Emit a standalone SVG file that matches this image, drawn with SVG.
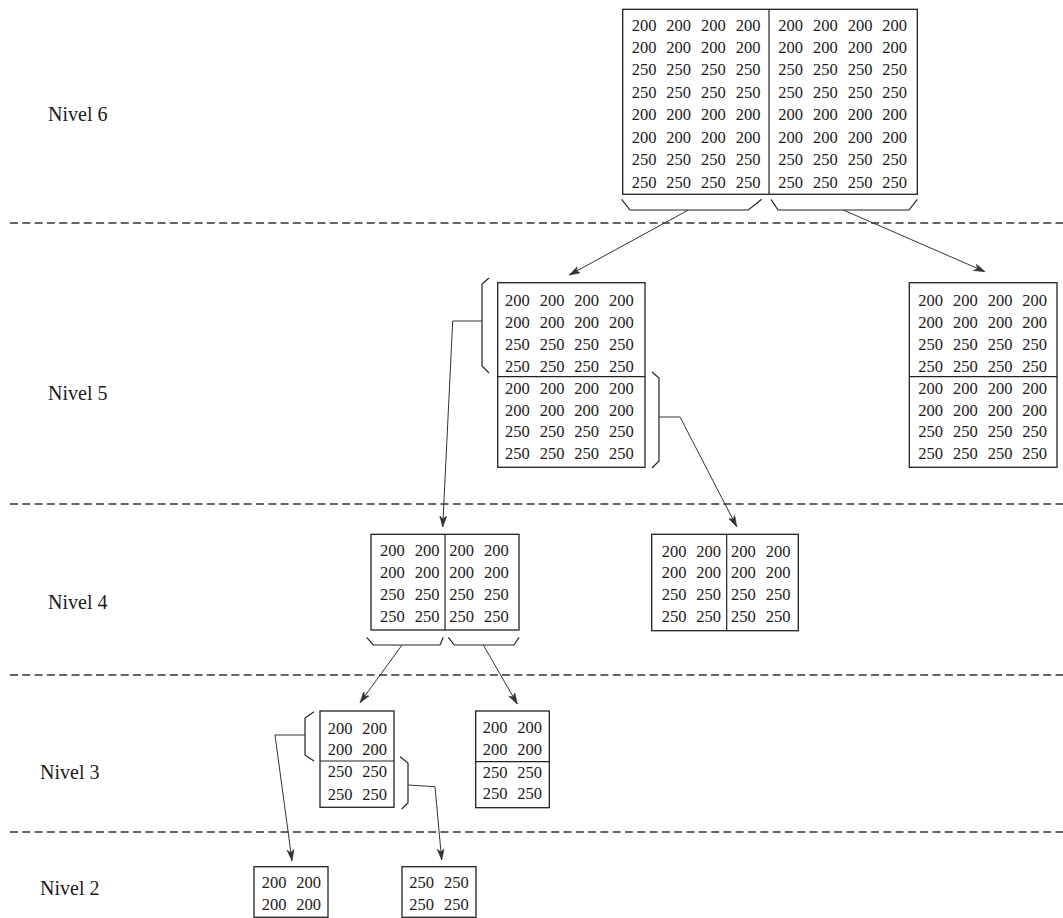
<svg xmlns="http://www.w3.org/2000/svg" width="1063" height="918" viewBox="0 0 1063 918">
<style>
.n{font-family:"Liberation Serif","Times New Roman",serif;font-size:16.5px;fill:#1a1a1a;word-spacing:5.8px}
.lbl{font-family:"Liberation Serif","Times New Roman",serif;font-size:20px;fill:#1a1a1a}
.box{fill:none;stroke:#222;stroke-width:1.3}
.div{stroke:#222;stroke-width:1.2;fill:none}
.br{fill:none;stroke:#222;stroke-width:1.2}
.dash{stroke:#333;stroke-width:1.3;stroke-dasharray:8 4.3;fill:none}
.con{fill:none;stroke:#333;stroke-width:1}
.arr{fill:none;stroke:#333;stroke-width:1;marker-end:url(#ah)}
</style>
<defs>
<marker id="ah" markerWidth="12" markerHeight="8" refX="11" refY="3.5" orient="auto" markerUnits="userSpaceOnUse">
<path d="M0,0 L11,3.5 L0,7 L3,3.5 z" fill="#333" stroke="#333" stroke-width="0.6"/>
</marker>
</defs>
<rect width="1063" height="918" fill="#fff"/>
<g id="separators">
<line class="dash" x1="10" y1="223" x2="1063" y2="223"/>
<line class="dash" x1="10" y1="504" x2="1063" y2="504"/>
<line class="dash" x1="10" y1="675" x2="1063" y2="675"/>
<line class="dash" x1="10" y1="832" x2="1063" y2="832"/>
</g>
<g id="labels">
<text class="lbl" x="48" y="121">Nivel 6</text>
<text class="lbl" x="48" y="400">Nivel 5</text>
<text class="lbl" x="48" y="609">Nivel 4</text>
<text class="lbl" x="40" y="779">Nivel 3</text>
<text class="lbl" x="40" y="895">Nivel 2</text>
</g>
<g id="node-n6">
<rect class="box" x="622.7" y="9.3" width="294.6" height="185"/>
<line class="div" x1="769" y1="9.3" x2="769" y2="194.3"/>
<text class="n" x="631.7" y="30.5">200 200 200 200</text>
<text class="n" x="631.7" y="53">200 200 200 200</text>
<text class="n" x="631.7" y="75.4">250 250 250 250</text>
<text class="n" x="631.7" y="97.8">250 250 250 250</text>
<text class="n" x="631.7" y="120.3">200 200 200 200</text>
<text class="n" x="631.7" y="142.7">200 200 200 200</text>
<text class="n" x="631.7" y="165.2">250 250 250 250</text>
<text class="n" x="631.7" y="187.6">250 250 250 250</text>
<text class="n" x="778.3" y="30.5">200 200 200 200</text>
<text class="n" x="778.3" y="53">200 200 200 200</text>
<text class="n" x="778.3" y="75.4">250 250 250 250</text>
<text class="n" x="778.3" y="97.8">250 250 250 250</text>
<text class="n" x="778.3" y="120.3">200 200 200 200</text>
<text class="n" x="778.3" y="142.7">200 200 200 200</text>
<text class="n" x="778.3" y="165.2">250 250 250 250</text>
<text class="n" x="778.3" y="187.6">250 250 250 250</text>
<path class="br" d="M621.7,199.3 L630,210 L748.3,210 L761.7,199.3"/>
<path class="br" d="M771,199.3 L778,210 L909,210 L917.3,199.3"/>
</g>
<g id="node-n5a">
<rect class="box" x="497.7" y="282.7" width="147.3" height="184.6"/>
<line class="div" x1="497.7" y1="376.7" x2="645" y2="376.7"/>
<text class="n" x="505" y="306">200 200 200 200</text>
<text class="n" x="505" y="327.9">200 200 200 200</text>
<text class="n" x="505" y="349.8">250 250 250 250</text>
<text class="n" x="505" y="371.7">250 250 250 250</text>
<text class="n" x="505" y="393.6">200 200 200 200</text>
<text class="n" x="505" y="415.5">200 200 200 200</text>
<text class="n" x="505" y="437.4">250 250 250 250</text>
<text class="n" x="505" y="459.3">250 250 250 250</text>
<path class="br" d="M489,278 L482,284 L482,366 L489,373"/>
<path class="br" d="M652,372 L659,378 L659,461 L652,468"/>
</g>
<g id="node-n5b">
<rect class="box" x="909.3" y="282.7" width="147.7" height="184.6"/>
<line class="div" x1="909.3" y1="376.7" x2="1057" y2="376.7"/>
<text class="n" x="918.3" y="306">200 200 200 200</text>
<text class="n" x="918.3" y="327.9">200 200 200 200</text>
<text class="n" x="918.3" y="349.8">250 250 250 250</text>
<text class="n" x="918.3" y="371.7">250 250 250 250</text>
<text class="n" x="918.3" y="393.6">200 200 200 200</text>
<text class="n" x="918.3" y="415.5">200 200 200 200</text>
<text class="n" x="918.3" y="437.4">250 250 250 250</text>
<text class="n" x="918.3" y="459.3">250 250 250 250</text>
</g>
<g id="node-n4a">
<rect class="box" x="371" y="534.3" width="148" height="95.7"/>
<line class="div" x1="445" y1="534.3" x2="445" y2="630"/>
<text class="n" x="380" y="556.3">200 200 200 200</text>
<text class="n" x="380" y="578.2">200 200 200 200</text>
<text class="n" x="380" y="600.2">250 250 250 250</text>
<text class="n" x="380" y="622">250 250 250 250</text>
<path class="br" d="M366.7,637.3 L373.3,645 L440,645 L443.3,637.3"/>
<path class="br" d="M448.3,637.3 L454.3,645 L514,645 L519,637.3"/>
</g>
<g id="node-n4b">
<rect class="box" x="651.7" y="534.3" width="146.6" height="96.4"/>
<line class="div" x1="726.7" y1="534.3" x2="726.7" y2="630.7"/>
<text class="n" x="661.7" y="557">200 200 200 200</text>
<text class="n" x="661.7" y="578.2">200 200 200 200</text>
<text class="n" x="661.7" y="599.5">250 250 250 250</text>
<text class="n" x="661.7" y="622">250 250 250 250</text>
</g>
<g id="node-n3a">
<rect class="box" x="320" y="711" width="74" height="96.3"/>
<line class="div" x1="320" y1="761" x2="394" y2="761"/>
<text class="n" x="327.7" y="733.6">200 200</text>
<text class="n" x="327.7" y="755.3">200 200</text>
<text class="n" x="327.7" y="777">250 250</text>
<text class="n" x="327.7" y="800.3">250 250</text>
<path class="br" d="M314,711.7 L305,718 L305,755 L314,761"/>
<path class="br" d="M400,756.7 L408,763 L408,803 L401.7,809"/>
</g>
<g id="node-n3b">
<rect class="box" x="475.7" y="711" width="73.6" height="96.7"/>
<line class="div" x1="475.7" y1="761.7" x2="549.3" y2="761.7"/>
<text class="n" x="482.7" y="732.6">200 200</text>
<text class="n" x="482.7" y="754.6">200 200</text>
<text class="n" x="482.7" y="778">250 250</text>
<text class="n" x="482.7" y="799.3">250 250</text>
</g>
<g id="node-n2a">
<rect class="box" x="254" y="866.7" width="74" height="50.6"/>
<text class="n" x="261.7" y="887.6">200 200</text>
<text class="n" x="261.7" y="910.3">200 200</text>
</g>
<g id="node-n2b">
<rect class="box" x="402" y="866.7" width="74" height="50.6"/>
<text class="n" x="409.3" y="887.6">250 250</text>
<text class="n" x="409.3" y="910.3">250 250</text>
</g>
<g id="connectors">
<line class="arr" x1="688.3" y1="210" x2="569.3" y2="275"/>
<line class="arr" x1="843.3" y1="210" x2="985" y2="271.7"/>
<polyline class="arr" points="482,321 452.7,321 442.7,527"/>
<polyline class="arr" points="659,417 680,417 736.7,526.7"/>
<line class="arr" x1="402" y1="645" x2="360" y2="702.7"/>
<line class="arr" x1="483.3" y1="645" x2="517.3" y2="704"/>
<polyline class="arr" points="305,735 275,735 292,860.7"/>
<polyline class="arr" points="408,785 435,786.7 441.7,860"/>
</g>
</svg>
